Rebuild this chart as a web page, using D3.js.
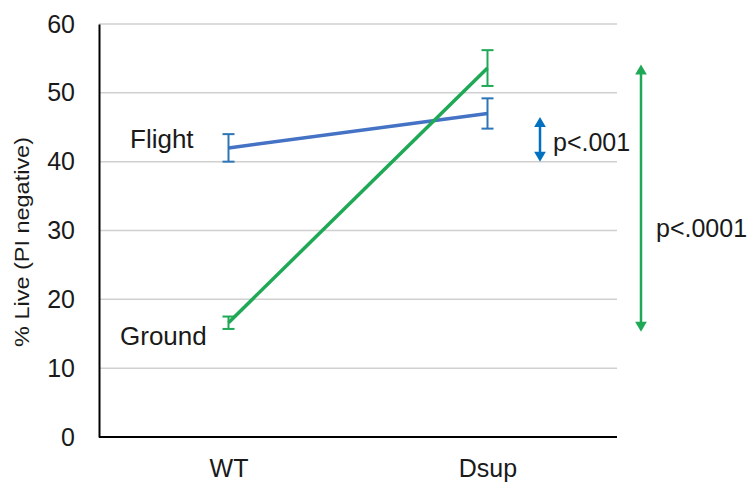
<!DOCTYPE html>
<html>
<head>
<meta charset="utf-8">
<script src="https://cdn.jsdelivr.net/npm/d3@7"></script>
<style>
  body { margin: 0; background: #fff; }
  text { font-family: Arial, "Liberation Sans", sans-serif; }
</style>
</head>
<body>
<div id="chart"></div>
<script>
// data
const categories = ["WT", "Dsup"];
const flightMean = [42.0, 47.0];
const flightErr = [2.0, 2.2];
const groundMean = [16.6, 53.6];
const groundErr = [0.9, 2.6];
const yTicks = [0, 10, 20, 30, 40, 50, 60];
const flightArrow = [40, 46.5];
const groundArrow = [15.3, 54.1];

const width = 753, height = 483;
const plotLeft = 99, plotRight = 617, plotTop = 24, plotBottom = 437;
const blue = "#4472c4", blueDark = "#2e75b6", blueArrow = "#0070c0";
const green = "#1fa855";
const ink = "#1a1a1a";

const svg = d3.select("#chart").append("svg")
  .attr("width", width)
  .attr("height", height);

const x = d3.scalePoint().domain(categories).range([plotLeft, plotRight]).padding(0.5);
const y = d3.scaleLinear().domain([0, 60]).range([plotBottom, plotTop]);

// gridlines
svg.append("g")
  .selectAll("line")
  .data(yTicks.filter(d => d > 0))
  .join("line")
  .attr("x1", plotLeft).attr("x2", plotRight)
  .attr("y1", d => y(d)).attr("y2", d => y(d))
  .style("stroke", "#d0d0d0")
  .style("stroke-width", 1.5);

// y axis
const yAxis = svg.append("g")
  .attr("transform", `translate(${plotLeft},0)`)
  .call(d3.axisLeft(y).tickValues(yTicks).tickSize(0).tickPadding(24));
yAxis.select(".domain").style("stroke", "#000").style("stroke-width", 2);
yAxis.selectAll("text")
  .style("font-size", "25px")
  .style("fill", ink);

// x axis
const xAxis = svg.append("g")
  .attr("transform", `translate(0,${plotBottom})`)
  .call(d3.axisBottom(x).tickSize(0).tickPadding(22));
xAxis.select(".domain").attr("d", `M${plotLeft},0H${plotRight}`)
  .style("stroke", "#000").style("stroke-width", 2);
xAxis.selectAll("text")
  .attr("dy", null)
  .attr("y", 40)
  .style("font-size", "25px")
  .style("fill", ink);

// y label
svg.append("text")
  .attr("transform", `translate(29,242) rotate(-90)`)
  .attr("text-anchor", "middle")
  .attr("textLength", 210)
  .attr("lengthAdjust", "spacingAndGlyphs")
  .style("font-size", "21px")
  .style("fill", ink)
  .text("% Live (PI negative)");

function drawSeries(means, errs, lineColor, barColor) {
  const pts = categories.map((c, i) => ({ c, m: means[i], e: errs[i] }));
  svg.append("path")
    .datum(pts)
    .attr("d", d3.line().x(d => x(d.c)).y(d => y(d.m)))
    .style("fill", "none")
    .style("stroke", lineColor)
    .style("stroke-width", 3.5);
  const g = svg.append("g").style("stroke", barColor).style("stroke-width", 2);
  pts.forEach(d => {
    g.append("line")
      .attr("x1", x(d.c)).attr("x2", x(d.c))
      .attr("y1", y(d.m - d.e)).attr("y2", y(d.m + d.e));
    [d.m - d.e, d.m + d.e].forEach(v => {
      g.append("line")
        .attr("x1", x(d.c) - 6).attr("x2", x(d.c) + 6)
        .attr("y1", y(v)).attr("y2", y(v));
    });
  });
}

drawSeries(flightMean, flightErr, blue, blueDark);
drawSeries(groundMean, groundErr, green, green);

// series labels
svg.append("text").attr("x", 130).attr("y", 148)
  .style("font-size", "26px").style("fill", ink).text("Flight");
svg.append("text").attr("x", 120).attr("y", 345)
  .style("font-size", "26px").style("fill", ink).text("Ground");

// significance arrows
function arrow(xp, range, color, w, head) {
  const y1 = y(range[1]), y0 = y(range[0]);
  svg.append("line")
    .attr("x1", xp).attr("x2", xp)
    .attr("y1", y1 + head).attr("y2", y0 - head)
    .style("stroke", color).style("stroke-width", w);
  svg.append("path")
    .attr("d", `M${xp},${y1}L${xp - head * 0.65},${y1 + head + 1}L${xp + head * 0.65},${y1 + head + 1}Z`)
    .style("fill", color);
  svg.append("path")
    .attr("d", `M${xp},${y0}L${xp - head * 0.65},${y0 - head - 1}L${xp + head * 0.65},${y0 - head - 1}Z`)
    .style("fill", color);
}
arrow(540, flightArrow, blueArrow, 2.5, 9);
arrow(641, groundArrow, green, 2.5, 9);

svg.append("text").attr("x", 553).attr("y", 151)
  .style("font-size", "25px").style("fill", ink).text("p<.001");
svg.append("text").attr("x", 656).attr("y", 237)
  .style("font-size", "25px").style("fill", ink).text("p<.0001");
</script>
</body>
</html>
